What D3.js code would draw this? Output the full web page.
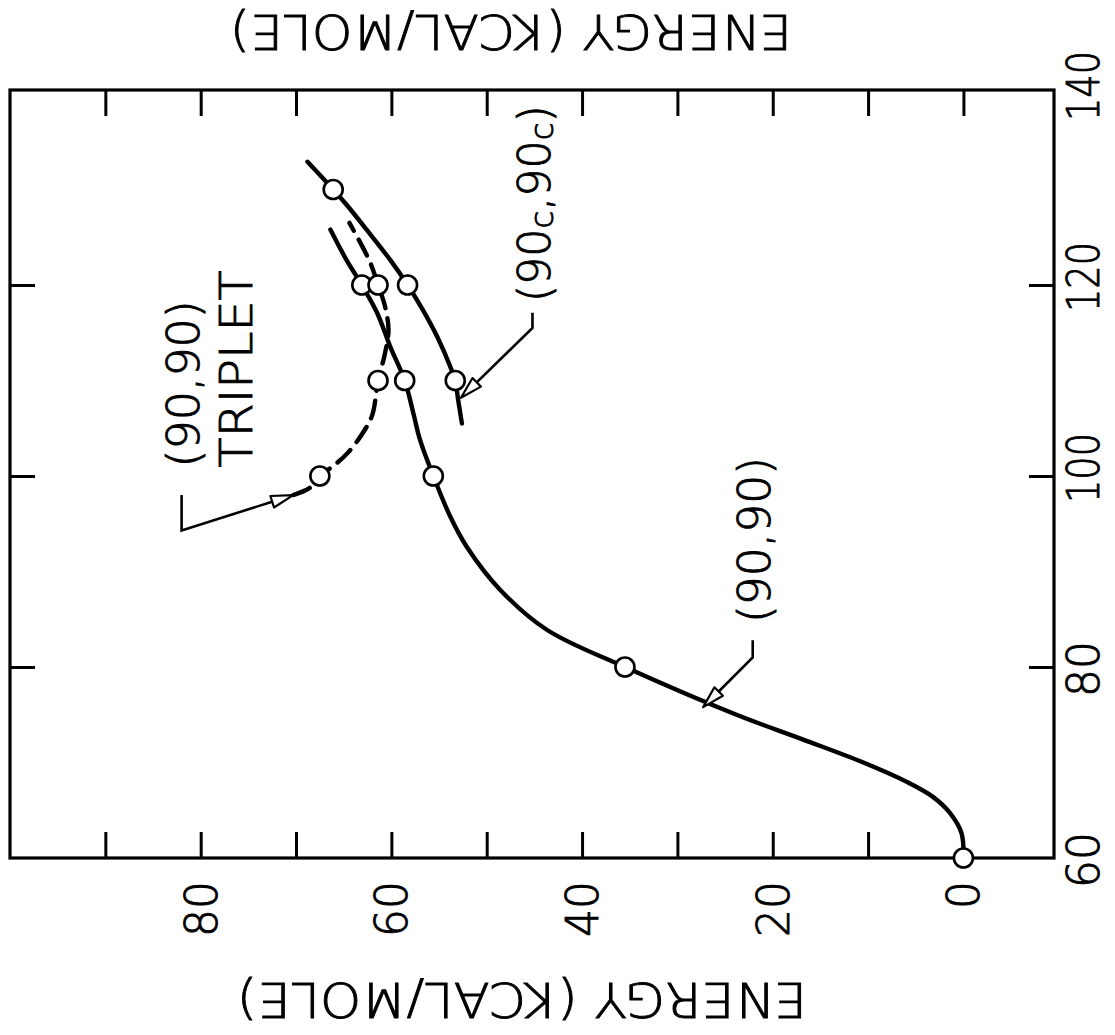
<!DOCTYPE html>
<html><head><meta charset="utf-8">
<script src="https://cdn.jsdelivr.net/npm/d3@7"></script>
<style>body{margin:0;background:#fff}svg{display:block}text{stroke:#000;stroke-width:0.9px}</style>
</head><body>
<svg id="chart" width="1115" height="1035"></svg>
<script>
// ---------------- data (angle in degrees, energy in kcal/mole) ----------------
const energyLabels = [0, 20, 40, 60, 80];
const energyTopTicks = [0, 10, 20, 30, 40, 50, 60, 70, 80, 90];
const energyBottomTicks = [10, 20, 30, 40, 50, 60, 70, 80, 90];
const angleLabels = [60, 80, 100, 120, 140];
const angleSideTicks = [80, 100, 120];

// (90,90) singlet: measured points and traced smooth curve
const singletPoints = [[60, 0], [80, 35.5], [100, 55.6], [110, 58.6], [120, 63.1]];
const singletCurve = [[60, 0], [62.6, 0.2], [64.7, 1.4], [66.4, 3.2], [68.0, 6.0], [70.0, 10.5],
  [72.4, 16.8], [75.0, 23.8], [80, 35.5], [83.9, 43.7], [88.1, 48.6], [92.6, 52.1],
  [95.7, 53.8], [100, 55.6], [103.8, 57.0], [106.6, 57.7], [110, 58.6], [113.5, 60.1],
  [117.1, 61.5], [120, 63.1], [122.6, 64.7], [125.8, 66.4]];

// (90,90) triplet (dashed)
const tripletPoints = [[100, 67.5], [110, 61.4], [120, 61.4]];
const tripletCurve = [[98.0, 70.3], [98.8, 68.5], [100, 67.5], [101.2, 65.9], [102.5, 64.5],
  [104.5, 63.0], [106.4, 62.0], [110, 61.4], [112.7, 60.7], [115.3, 60.3], [117.9, 60.7],
  [120, 61.4], [122.3, 62.2], [124.7, 63.4], [126.5, 64.4]];

// (90c,90c)
const cisPoints = [[110, 53.3], [120, 58.3], [130, 66.1]];
const cisCurve = [[105.5, 52.6], [108.0, 53.0], [110, 53.3], [111.4, 53.8], [114.6, 55.2],
  [117.4, 56.7], [120, 58.3], [122.6, 60.1], [125.8, 62.6], [128.4, 64.7], [130, 66.1], [132.9, 68.8]];

// ---------------- drawing ----------------
const FONT = "'DejaVu Sans', 'Liberation Sans', sans-serif";
const WEIGHT = 200;
const svg = d3.select("#chart");
const plot = {left: 10, right: 1054, top: 90, bottom: 858};

// energy runs horizontally (0 on the right), angle runs vertically (60 at bottom)
const x = d3.scaleLinear().domain([100, -9.5]).range([plot.left, plot.right]);
const y = d3.scaleLinear().domain([60, 140]).range([plot.bottom, 94]);

// frame
svg.append("rect").attr("x", plot.left).attr("y", plot.top)
  .attr("width", plot.right - plot.left).attr("height", plot.bottom - plot.top)
  .attr("fill", "none").attr("stroke", "#000").attr("stroke-width", 3.2);

// inward ticks using d3 axes
function styleAxis(g) {
  g.select(".domain").remove();
  g.selectAll(".tick line").attr("stroke", "#000").attr("stroke-width", 3);
  g.selectAll(".tick text").remove();
}
svg.append("g").attr("transform", `translate(0,${plot.top})`)
  .call(d3.axisTop(x).tickValues(energyTopTicks).tickSize(-26)).call(styleAxis);
svg.append("g").attr("transform", `translate(0,${plot.bottom})`)
  .call(d3.axisBottom(x).tickValues(energyBottomTicks).tickSize(-26)).call(styleAxis);
svg.append("g").attr("transform", `translate(${plot.left},0)`)
  .call(d3.axisLeft(y).tickValues(angleSideTicks).tickSize(-25)).call(styleAxis);
svg.append("g").attr("transform", `translate(${plot.right},0)`)
  .call(d3.axisRight(y).tickValues(angleSideTicks).tickSize(-25)).call(styleAxis);

// tick labels (rotated, reading bottom to top)
svg.selectAll("text.elab").data(energyLabels).join("text")
  .attr("class", "elab")
  .attr("transform", d => `translate(${x(d) + 16},${plot.bottom + 23}) rotate(-90)`)
  .attr("text-anchor", "end")
  .attr("font-family", FONT).attr("font-weight", WEIGHT).attr("font-size", 44)
  .text(d => d);
svg.selectAll("text.alab").data(angleLabels).join("text")
  .attr("class", "alab")
  .attr("transform", d => `translate(${plot.right + 45},${y(d) + (String(d).length === 3 ? -8 : 2)}) rotate(-90)`)
  .attr("text-anchor", "middle")
  .attr("font-family", FONT).attr("font-weight", WEIGHT).attr("font-size", 44)
  .each(function (d) {
    if (String(d).length === 3) d3.select(this).attr("textLength", 70).attr("lengthAdjust", "spacingAndGlyphs");
  })
  .text(d => d);

// axis titles (upside down)
svg.append("text")
  .attr("transform", `translate(511,15) rotate(180)`)
  .attr("text-anchor", "middle").attr("font-family", FONT).attr("font-weight", WEIGHT).attr("font-size", 48)
  .attr("textLength", 562).attr("lengthAdjust", "spacingAndGlyphs")
  .text("ENERGY (KCAL/MOLE)");
svg.append("text")
  .attr("transform", `translate(522,983) rotate(180)`)
  .attr("text-anchor", "middle").attr("font-family", FONT).attr("font-weight", WEIGHT).attr("font-size", 48)
  .attr("textLength", 570).attr("lengthAdjust", "spacingAndGlyphs")
  .text("ENERGY (KCAL/MOLE)");

// curves
const line = d3.line().x(d => x(d[1])).y(d => y(d[0])).curve(d3.curveCatmullRom.alpha(0.5));
svg.append("path").datum(singletCurve).attr("d", line)
  .attr("fill", "none").attr("stroke", "#000").attr("stroke-width", 4.4).attr("stroke-linecap", "round");
svg.append("path").datum(cisCurve).attr("d", line)
  .attr("fill", "none").attr("stroke", "#000").attr("stroke-width", 4.4).attr("stroke-linecap", "round");
svg.append("path").datum(tripletCurve).attr("d", line)
  .attr("fill", "none").attr("stroke", "#000").attr("stroke-width", 4.4)
  .attr("stroke-dasharray", "18,10").attr("stroke-linecap", "round");

// markers
const allPoints = [...singletPoints, ...tripletPoints, ...cisPoints];
svg.selectAll("circle.pt").data(allPoints).join("circle")
  .attr("class", "pt")
  .attr("cx", d => x(d[1])).attr("cy", d => y(d[0])).attr("r", 9.5)
  .attr("fill", "#fff").attr("stroke", "#000").attr("stroke-width", 2.6);

// annotation leaders with hollow arrowheads ([angle, energy] anchors)
function leader(path) {
  const pts = path.map(d => [x(d[1]), y(d[0])]);
  const tip = pts[pts.length - 1], prev = pts[pts.length - 2];
  const dx = tip[0] - prev[0], dy = tip[1] - prev[1], len = Math.hypot(dx, dy);
  const ux = dx / len, uy = dy / len, L = 22, W = 6;
  const base = [tip[0] - ux * L, tip[1] - uy * L];
  const linePts = pts.slice(0, -1).concat([base]);
  svg.append("path").attr("d", d3.line()(linePts))
    .attr("fill", "none").attr("stroke", "#000").attr("stroke-width", 2.6);
  svg.append("path")
    .attr("d", d3.line()([tip, [base[0] - uy * W, base[1] + ux * W], [base[0] + uy * W, base[1] - ux * W], tip]) + "Z")
    .attr("fill", "#fff").attr("stroke", "#000").attr("stroke-width", 2.2).attr("stroke-linejoin", "round");
}
leader([[82.8, 22.1], [81.0, 22.1], [75.8, 27.3]]);
leader([[98.0, 82.0], [94.3, 82.0], [98.0, 70.3]]);
leader([[117.1, 45.2], [115.5, 45.2], [108.2, 52.7]]);

// labels
function rotLabel(angle, energy, len) {
  return svg.append("text")
    .attr("transform", `translate(${x(energy)},${y(angle)}) rotate(-90)`)
    .attr("font-family", FONT).attr("font-weight", WEIGHT).attr("font-size", 44)
    .attr("textLength", len).attr("lengthAdjust", "spacingAndGlyphs");
}
rotLabel(84.6, 20.3, 166).text("(90,90)");
rotLabel(100.9, 80.2, 167).text("(90,90)");
rotLabel(100.9, 74.6, 197).text("TRIPLET");
const cisLab = rotLabel(118.2, 43.4, 197);
cisLab.append("tspan").text("(90");
cisLab.append("tspan").attr("font-size", 32).attr("dy", 3).text("c");
cisLab.append("tspan").attr("dy", -3).text(",90");
cisLab.append("tspan").attr("font-size", 32).attr("dy", 3).text("c");
cisLab.append("tspan").attr("dy", -3).text(")");
</script>
</body></html>
